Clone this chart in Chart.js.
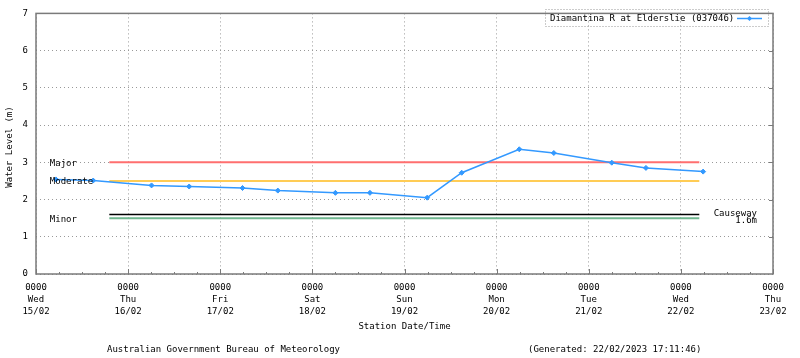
<!DOCTYPE html>
<html lang="en">
<head>
    <meta charset="UTF-8">
    <title>Diamantina R at Elderslie (037046)</title>
    <script src="https://cdn.jsdelivr.net/npm/chart.js"></script>
    <style>
        body { margin: 0; background: #fff; }
        #chart { display: block; }
    </style>
</head>
<body>
    <canvas id="chart" width="800" height="358"></canvas>

    <script>
        // hours after 0000 Wed 15/02 and river level (m)
        const hours = [5.2, 14.9, 30.1, 39.9, 53.8, 63.0, 78.0, 87.0, 101.9, 110.9, 125.9, 134.9, 150.0, 158.9, 173.8];
        const levels = [2.54, 2.51, 2.38, 2.35, 2.31, 2.24, 2.18, 2.18, 2.05, 2.72, 3.35, 3.25, 2.99, 2.85, 2.75];

        const dayNames = ['Wed', 'Thu', 'Fri', 'Sat', 'Sun', 'Mon', 'Tue', 'Wed', 'Thu'];
        const dayDates = ['15/02', '16/02', '17/02', '18/02', '19/02', '20/02', '21/02', '22/02', '23/02'];

        // flood classification lines
        const floodNames = ['Major', 'Moderate', 'Minor'];
        const floodLevels = [3, 2.5, 1.5];
        const floodColors = ['#ff6f6f', '#ffcc55', '#6fb68f'];
        const causewayLevel = 1.6;
        const levelSpan = [19.1, 172.8];

        const FONT = '9px "DejaVu Sans Mono", monospace';

        const flat = (lvl) => levelSpan.map(h => ({ x: h, y: lvl }));

        const datasets = floodLevels.map((lvl, i) => ({
            label: floodNames[i],
            data: flat(lvl),
            borderColor: floodColors[i],
            borderWidth: 2,
            pointRadius: 0,
            order: 2
        }));
        datasets.push({
            label: 'Causeway',
            data: flat(causewayLevel),
            borderColor: '#000',
            borderWidth: 1.5,
            pointRadius: 0,
            order: 2
        });
        datasets.push({
            label: 'Diamantina R at Elderslie (037046)',
            data: hours.map((h, i) => ({ x: h, y: levels[i] })),
            borderColor: '#3399ff',
            backgroundColor: '#3399ff',
            borderWidth: 1.5,
            pointStyle: 'rectRot',
            pointRadius: 2.5,
            pointBorderWidth: 1,
            order: 1
        });

        // frame, inward ticks, labels, legend, titles
        const decorations = {
            id: 'decorations',
            afterDraw(chart) {
                const { ctx, chartArea: a, scales: { x, y } } = chart;
                ctx.save();

                ctx.strokeStyle = '#7a7a7a';
                ctx.lineWidth = 1.5;
                ctx.strokeRect(a.left, a.top, a.right - a.left, a.bottom - a.top);

                ctx.lineWidth = 1;
                ctx.beginPath();
                for (let h = 0; h <= 192; h += 6) {
                    const px = Math.round(x.getPixelForValue(h)) + 0.5;
                    const len = h % 24 === 0 ? 5 : 2;
                    ctx.moveTo(px, a.bottom);
                    ctx.lineTo(px, a.bottom - len);
                }
                for (let v = 1; v < 7; v++) {
                    const py = Math.round(y.getPixelForValue(v)) + 0.5;
                    ctx.moveTo(a.right, py);
                    ctx.lineTo(a.right - 4, py);
                }
                ctx.stroke();

                ctx.font = FONT;
                ctx.fillStyle = '#000';
                ctx.textBaseline = 'middle';

                // flood class labels
                ctx.textAlign = 'left';
                floodNames.forEach((name, i) => {
                    ctx.fillText(name, x.getPixelForValue(3.6), y.getPixelForValue(floodLevels[i]) + 1);
                });
                ctx.textAlign = 'right';
                const cy = y.getPixelForValue(causewayLevel);
                ctx.fillText('Causeway', 757, cy - 1);
                ctx.fillText(causewayLevel.toFixed(1) + 'm', 757, cy + 6.5);

                // legend
                ctx.setLineDash([1, 2]);
                ctx.strokeStyle = '#999';
                ctx.strokeRect(545.5, 9.5, 223, 17);
                ctx.setLineDash([]);
                ctx.textAlign = 'left';
                ctx.fillText('Diamantina R at Elderslie (037046)', 550, 19);
                ctx.strokeStyle = '#3399ff';
                ctx.lineWidth = 1.5;
                ctx.beginPath();
                ctx.moveTo(737, 18.5);
                ctx.lineTo(762, 18.5);
                ctx.stroke();
                ctx.fillStyle = '#3399ff';
                ctx.beginPath();
                ctx.moveTo(749.5, 16);
                ctx.lineTo(752, 18.5);
                ctx.lineTo(749.5, 21);
                ctx.lineTo(747, 18.5);
                ctx.closePath();
                ctx.fill();

                // titles and footer
                ctx.fillStyle = '#000';
                ctx.textAlign = 'center';
                ctx.fillText('Station Date/Time', (a.left + a.right) / 2, 327);
                ctx.textAlign = 'left';
                ctx.fillText('Australian Government Bureau of Meteorology', 107, 350);
                ctx.fillText('(Generated: 22/02/2023 17:11:46)', 528, 350);

                ctx.translate(10, 147);
                ctx.rotate(-Math.PI / 2);
                ctx.textAlign = 'center';
                ctx.fillText('Water Level (m)', 0, 0);

                ctx.restore();
            }
        };

        new Chart(document.getElementById('chart'), {
            type: 'line',
            data: { datasets },
            plugins: [decorations],
            options: {
                responsive: false,
                animation: false,
                layout: { padding: { top: 12, right: 27, left: 0, bottom: 0 } },
                plugins: {
                    legend: { display: false },
                    tooltip: { enabled: false }
                },
                scales: {
                    x: {
                        type: 'linear',
                        min: 0,
                        max: 192,
                        afterFit: (s) => { s.height = 84; },
                        ticks: {
                            stepSize: 6,
                            autoSkip: false,
                            maxRotation: 0,
                            padding: 8,
                            color: '#000',
                            font: { family: '"DejaVu Sans Mono", monospace', size: 9, lineHeight: 1.3 },
                            callback: (v) => {
                                if (v % 24 !== 0) return '';
                                const d = v / 24;
                                return ['0000', dayNames[d], dayDates[d]];
                            }
                        },
                        grid: {
                            drawTicks: false,
                            color: (c) => (c.tick && c.tick.value % 24 === 0 ? '#999' : 'rgba(0,0,0,0)'),
                            lineWidth: 1
                        },
                        border: { display: false, dash: [1, 3] }
                    },
                    y: {
                        min: 0,
                        max: 7,
                        afterFit: (s) => { s.width = 36; },
                        ticks: {
                            stepSize: 1,
                            padding: 8,
                            color: '#000',
                            font: { family: '"DejaVu Sans Mono", monospace', size: 9 }
                        },
                        grid: {
                            drawTicks: false,
                            color: '#999',
                            lineWidth: 1
                        },
                        border: { display: false, dash: [1, 3] }
                    }
                }
            }
        });
    </script>
</body>
</html>
